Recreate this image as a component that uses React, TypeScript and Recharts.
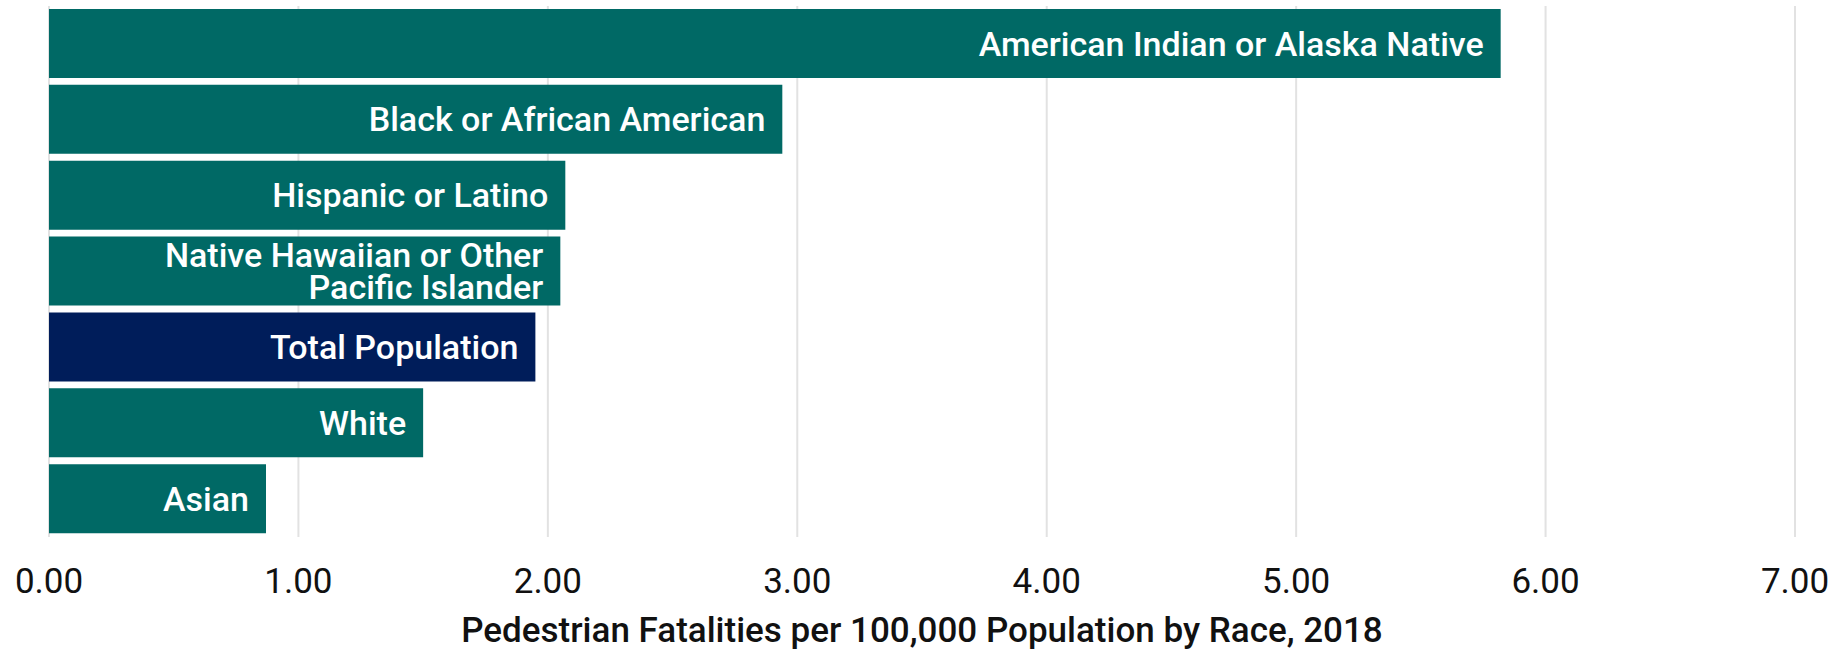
import { Bar, BarChart, CartesianGrid, Cell, LabelList, XAxis, YAxis } from 'recharts';

const categories = [
  'American Indian or Alaska Native',
  'Black or African American',
  'Hispanic or Latino',
  'Native Hawaiian or Other Pacific Islander',
  'Total Population',
  'White',
  'Asian'
];

// labels as they wrap inside the bars
const barLabels = [
  ['American Indian or Alaska Native'],
  ['Black or African American'],
  ['Hispanic or Latino'],
  ['Native Hawaiian or Other', 'Pacific Islander'],
  ['Total Population'],
  ['White'],
  ['Asian']
];

const rates = [5.82, 2.94, 2.07, 2.05, 1.95, 1.5, 0.87];

const xTicks = [0, 1, 2, 3, 4, 5, 6, 7];

const axisTitle = 'Pedestrian Fatalities per 100,000 Population by Race, 2018';

const TEAL = '#006965';
const NAVY = '#001d5a';

const data = categories.map((race, i) => ({ race, rate: rates[i] }));

const FONT = 'Roboto, "Liberation Sans", sans-serif';

const XTick = (props: any) => {
  const { x, y, payload } = props;
  return (
    <text x={x} y={y + 56} textAnchor="middle" fontFamily={FONT} fontSize={35} fill="#111">
      {Number(payload.value).toFixed(2)}
    </text>
  );
};

const BarText = (props: any) => {
  const { x, y, width, height, index } = props;
  const lines = barLabels[index];
  const cx = x + width - 17;
  const mid = y + height / 2;
  const lh = 32;
  const first = mid - ((lines.length - 1) * lh) / 2 + 12;
  return (
    <text textAnchor="end" fontFamily={FONT} fontSize={34} fontWeight={500} fill="#fff">
      {lines.map((l: string, k: number) => (
        <tspan key={k} x={cx} y={first + k * lh}>
          {l}
        </tspan>
      ))}
    </text>
  );
};

const AxisTitle = (props: any) => {
  const { viewBox } = props;
  const cx = viewBox.x + viewBox.width / 2;
  return (
    <text x={cx} y={642} textAnchor="middle" fontFamily={FONT} fontSize={35} fontWeight={500} fill="#111">
      {axisTitle}
    </text>
  );
};

export default function App() {
  return (
    <div style={{ position: 'absolute', left: 0, top: 0, background: '#fff' }}>
      <BarChart
        width={1836}
        height={653}
        data={data}
        layout="vertical"
        margin={{ top: 6, right: 41, left: 49, bottom: 0 }}
        barSize={69}
      >
        <CartesianGrid horizontal={false} stroke="#e2e2e2" strokeWidth={2} />
        <XAxis
          type="number"
          domain={[0, 7]}
          ticks={xTicks}
          axisLine={false}
          tickLine={false}
          tickSize={0}
          tickMargin={0}
          tick={<XTick />}
          height={116}
          interval={0}
          label={<AxisTitle />}
        />
        <YAxis type="category" dataKey="race" hide width={0} />
        <Bar dataKey="rate" isAnimationActive={false}>
          {data.map((d) => (
            <Cell key={d.race} fill={d.race === 'Total Population' ? NAVY : TEAL} />
          ))}
          <LabelList dataKey="rate" content={<BarText />} />
        </Bar>
      </BarChart>
    </div>
  );
}
